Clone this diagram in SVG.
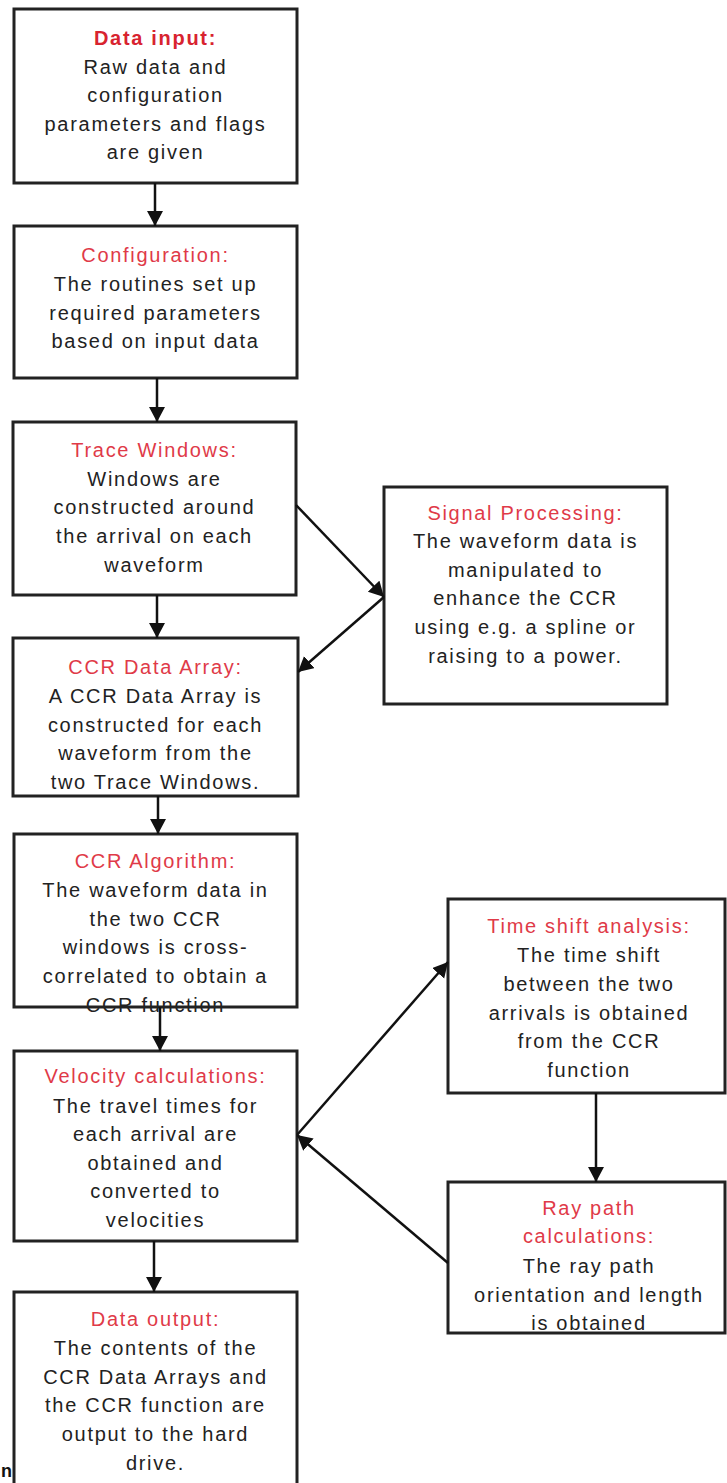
<svg xmlns="http://www.w3.org/2000/svg" width="727" height="1483" viewBox="0 0 727 1483">
<style>
.box{fill:#fff;stroke:#222;stroke-width:3}
.t{font-family:"Liberation Sans",Arial,sans-serif;font-size:20px;letter-spacing:1.7px;text-anchor:middle;fill:#222}
.h{fill:#e03a48}
.hb{fill:#d8232f;font-weight:bold}
.c{stroke:#111;stroke-width:2.5;fill:none;marker-end:url(#ah)}
</style>
<defs>
<marker id="ah" markerUnits="userSpaceOnUse" markerWidth="17" markerHeight="17" refX="15" refY="8" orient="auto">
<path d="M0,0 L15,8 L0,16 z" fill="#111"/>
</marker>
</defs>
<rect x="0" y="0" width="727" height="1483" fill="#fff"/>

<g id="n1">
<rect class="box" x="14" y="9" width="283" height="174"/>
<text class="t"><tspan class="hb" x="155.5" y="45">Data input:</tspan><tspan x="155.5" y="74">Raw data and</tspan><tspan x="155.5" y="102">configuration</tspan><tspan x="155.5" y="131">parameters and flags</tspan><tspan x="155.5" y="159">are given</tspan></text>
</g>

<g id="n2">
<rect class="box" x="14" y="226" width="283" height="152"/>
<text class="t"><tspan class="h" x="155.5" y="262">Configuration:</tspan><tspan x="155.5" y="291">The routines set up</tspan><tspan x="155.5" y="320">required parameters</tspan><tspan x="155.5" y="348">based on input data</tspan></text>
</g>

<g id="n3">
<rect class="box" x="13" y="422" width="283" height="173"/>
<text class="t"><tspan class="h" x="154.5" y="457">Trace Windows:</tspan><tspan x="154.5" y="486">Windows are</tspan><tspan x="154.5" y="514">constructed around</tspan><tspan x="154.5" y="543">the arrival on each</tspan><tspan x="154.5" y="572">waveform</tspan></text>
</g>

<g id="n4">
<rect class="box" x="13" y="638" width="285" height="158"/>
<text class="t"><tspan class="h" x="155.5" y="674">CCR Data Array:</tspan><tspan x="155.5" y="703">A CCR Data Array is</tspan><tspan x="155.5" y="732">constructed for each</tspan><tspan x="155.5" y="760">waveform from the</tspan><tspan x="155.5" y="789">two Trace Windows.</tspan></text>
</g>

<g id="n5">
<rect class="box" x="14" y="834" width="283" height="173"/>
<text class="t"><tspan class="h" x="155.5" y="868">CCR Algorithm:</tspan><tspan x="155.5" y="897">The waveform data in</tspan><tspan x="155.5" y="926">the two CCR</tspan><tspan x="155.5" y="954">windows is cross-</tspan><tspan x="155.5" y="983">correlated to obtain a</tspan><tspan x="155.5" y="1012">CCR function</tspan></text>
</g>

<g id="n6">
<rect class="box" x="14" y="1051" width="283" height="190"/>
<text class="t"><tspan class="h" x="155.5" y="1083">Velocity calculations:</tspan><tspan x="155.5" y="1113">The travel times for</tspan><tspan x="155.5" y="1141">each arrival are</tspan><tspan x="155.5" y="1170">obtained and</tspan><tspan x="155.5" y="1198">converted to</tspan><tspan x="155.5" y="1227">velocities</tspan></text>
</g>

<g id="n7">
<rect class="box" x="14" y="1292" width="283" height="205"/>
<text class="t"><tspan class="h" x="155.5" y="1326">Data output:</tspan><tspan x="155.5" y="1355">The contents of the</tspan><tspan x="155.5" y="1384">CCR Data Arrays and</tspan><tspan x="155.5" y="1412">the CCR function are</tspan><tspan x="155.5" y="1441">output to the hard</tspan><tspan x="155.5" y="1470">drive.</tspan></text>
</g>

<g id="n8">
<rect class="box" x="384" y="487" width="283" height="217"/>
<text class="t"><tspan class="h" x="525.5" y="520">Signal Processing:</tspan><tspan x="525.5" y="548">The waveform data is</tspan><tspan x="525.5" y="577">manipulated to</tspan><tspan x="525.5" y="605">enhance the CCR</tspan><tspan x="525.5" y="634">using e.g. a spline or</tspan><tspan x="525.5" y="663">raising to a power.</tspan></text>
</g>

<g id="n9">
<rect class="box" x="448" y="899" width="277" height="194"/>
<text class="t"><tspan class="h" x="589" y="933">Time shift analysis:</tspan><tspan x="589" y="962">The time shift</tspan><tspan x="589" y="991">between the two</tspan><tspan x="589" y="1020">arrivals is obtained</tspan><tspan x="589" y="1048">from the CCR</tspan><tspan x="589" y="1077">function</tspan></text>
</g>

<g id="n10">
<rect class="box" x="448" y="1182" width="277" height="151"/>
<text class="t"><tspan class="h" x="589" y="1215">Ray path</tspan><tspan class="h" x="589" y="1243">calculations:</tspan><tspan x="589" y="1273">The ray path</tspan><tspan x="589" y="1302">orientation and length</tspan><tspan x="589" y="1330">is obtained</tspan></text>
</g>

<g id="connectors">
<line class="c" x1="155" y1="183" x2="155" y2="226"/>
<line class="c" x1="157" y1="378" x2="157" y2="422"/>
<line class="c" x1="157" y1="595" x2="157" y2="638"/>
<line class="c" x1="158" y1="796" x2="158" y2="834"/>
<line class="c" x1="160" y1="1007" x2="160" y2="1051"/>
<line class="c" x1="154" y1="1241" x2="154" y2="1292"/>
<line class="c" x1="596" y1="1093" x2="596" y2="1182"/>
<line class="c" x1="296" y1="505" x2="384" y2="597"/>
<line class="c" x1="384" y1="597" x2="298" y2="672"/>
<line class="c" x1="297" y1="1135" x2="448" y2="962"/>
<line class="c" x1="448" y1="1263" x2="297" y2="1135"/>
</g>

<text id="stray" x="1" y="1477" style="font-family:'Liberation Sans',Arial,sans-serif;font-size:18px;font-weight:bold;fill:#111">n</text>
</svg>
